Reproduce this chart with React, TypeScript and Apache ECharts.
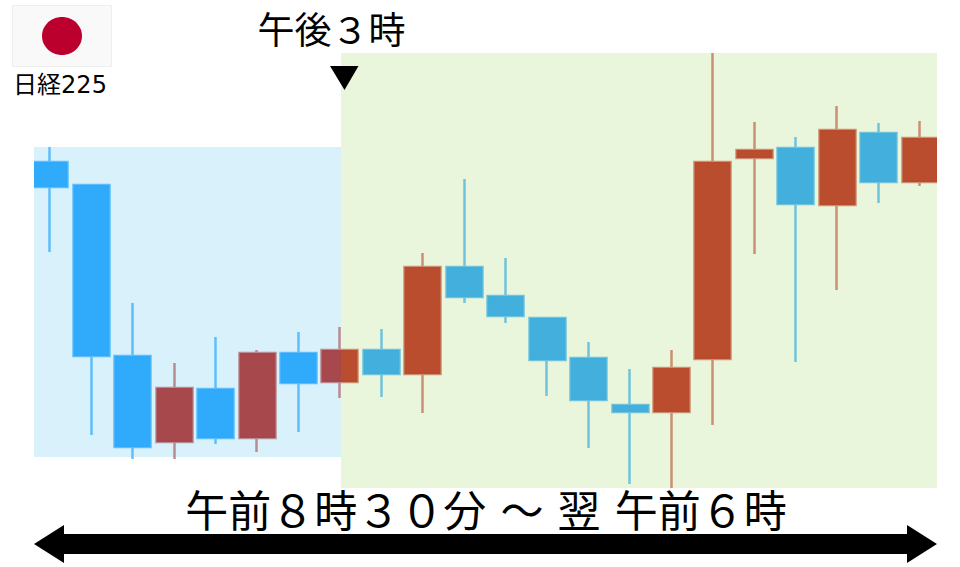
import React, { useEffect, useRef } from "react";
import * as echarts from "echarts";

const opens = [405, 382, 211, 125, 178, 129, 214, 185, 217, 193, 300, 271, 249, 209, 162, 155, 208, 409, 419, 362, 434, 385];
const closes = [380, 211, 120, 179, 129, 214, 184, 217, 193, 300, 270, 251, 207, 167, 155, 199, 405, 417, 363, 437, 385, 429];
const lows = [315, 132, 108, 108, 123, 115, 135, 169, 170, 154, 264, 244, 171, 119, 83, 79, 142, 313, 205, 277, 364, 381];
const highs = [420, 382, 264, 204, 230, 217, 235, 240, 238, 314, 388, 309, 249, 225, 198, 217, 514, 445, 430, 461, 444, 446];

const titleLabel = "日経225";
const closeLabel = "午後３時";
const rangeLabel = "午前８時３０分\u2004～\u2004翌\u2004午前６時";

const X_MIN = -0.386;
const X_MAX = 21.41;
const SESSION_SPLIT = 7.024;
const DAY_BAND = [110, 420];
const NIGHT_BAND = [79, 514];

const FONT = '"DejaVu Sans", "Noto Sans CJK JP", sans-serif';

export default function App() {
  const ref = useRef<HTMLDivElement>(null);
  useEffect(() => {
    const chart = echarts.init(ref.current!, undefined, { renderer: "svg" });
    chart.setOption({
      animation: false,
      backgroundColor: "#ffffff",
      grid: { left: 34, top: 0, width: 903, height: 567 },
      xAxis: { type: "value", min: X_MIN, max: X_MAX, show: false },
      yAxis: { type: "value", min: 0, max: 567, show: false },
      series: [
        {
          type: "candlestick",
          z: 2,
          barWidth: 36.5,
          clip: true,
          encode: { x: 0, y: [1, 2, 3, 4] },
          data: opens.map((o, i) => [i, o, closes[i], lows[i], highs[i]]),
          itemStyle: {
            color: "rgb(194,44,38)",
            color0: "rgb(45,167,255)",
            borderColor: "rgba(194,44,38,0.6)",
            borderColor0: "rgba(45,167,255,0.72)",
            borderWidth: 2.5,
          },
          markArea: {
            z: 5,
            silent: true,
            data: [
              [
                { coord: [X_MIN, DAY_BAND[1]], itemStyle: { color: "rgba(60,185,235,0.2)" } },
                { coord: [SESSION_SPLIT, DAY_BAND[0]] },
              ],
              [
                { coord: [SESSION_SPLIT, NIGHT_BAND[1]], itemStyle: { color: "rgba(150,210,80,0.2)" } },
                { coord: [X_MAX, NIGHT_BAND[0]] },
              ],
            ],
          },
        },
      ],
      graphic: [
        { type: "rect", z: 6, shape: { x: 24, y: 150, width: 10, height: 50 }, style: { fill: "#ffffff" } },
        { type: "rect", z: 6, shape: { x: 937, y: 125, width: 10, height: 70 }, style: { fill: "#ffffff" } },
        {
          type: "rect",
          z: 10,
          shape: { x: 12.5, y: 5.5, width: 99, height: 61 },
          style: { fill: "#f9f9f9", stroke: "#eeeeee", lineWidth: 1 },
        },
        {
          type: "ellipse",
          z: 11,
          shape: { cx: 62, cy: 36, rx: 20, ry: 19 },
          style: { fill: "#bc002d" },
        },
        {
          type: "text",
          z: 11,
          x: 60,
          y: 85,
          style: { text: titleLabel, font: `24px ${FONT}`, fill: "#000", align: "center", verticalAlign: "middle" },
        },
        {
          type: "text",
          z: 11,
          x: 331.5,
          y: 31,
          style: { text: closeLabel, font: `37px ${FONT}`, fill: "#000", align: "center", verticalAlign: "middle" },
        },
        {
          type: "polygon",
          z: 11,
          shape: { points: [[330, 66], [358.5, 66], [344.5, 90]] },
          style: { fill: "#000" },
        },
        {
          type: "text",
          z: 11,
          x: 486,
          y: 512,
          style: { text: rangeLabel, font: `43px ${FONT}`, fill: "#000", align: "center", verticalAlign: "middle" },
        },
        {
          type: "polygon",
          z: 11,
          shape: {
            points: [
              [34, 544], [64, 525], [64, 534], [907, 534], [907, 525], [937, 544],
              [907, 563], [907, 554], [64, 554], [64, 563],
            ],
          },
          style: { fill: "#000" },
        },
      ],
    });
    return () => chart.dispose();
  }, []);
  return <div ref={ref} style={{ position: "fixed", left: 0, top: 0, width: 960, height: 567 }} />;
}
